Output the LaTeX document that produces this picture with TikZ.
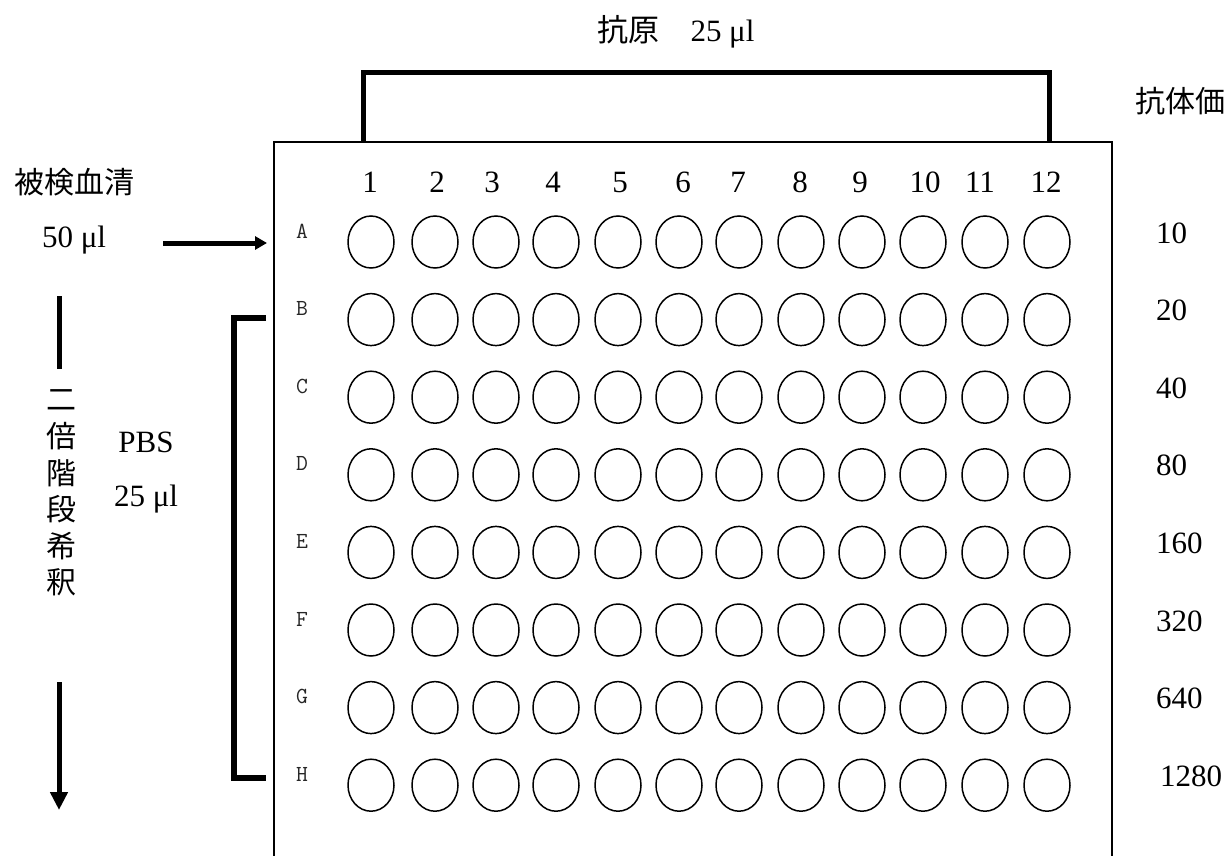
\documentclass[tikz,border=0pt]{standalone}
\usepackage{fontspec}
\setmainfont{Liberation Serif}
\newfontfamily\cjk{Noto Sans CJK JP}
\usetikzlibrary{shapes.geometric,arrows.meta}
\tikzset{
  lat/.style={font=\fontsize{31}{36}\selectfont, inner sep=0pt, anchor=base},
  cj/.style={font=\cjk\fontsize{30}{36}\selectfont, inner sep=0pt},
  rowlab/.style={font=\ttfamily\fontsize{23}{27}\selectfont, inner sep=0pt, anchor=base, text=black!85},
  well/.style={ellipse, draw, line width=1.5pt, minimum width=46pt, minimum height=52pt, inner sep=0pt},
  platepath/.style={line width=1.6pt},
  thickbar/.style={line width=5pt},
  arrowline/.style={line width=5pt, -{Triangle[length=12pt,width=13pt]}},
  downarrow/.style={line width=5pt, -{Triangle[length=18pt,width=17pt]}}
}
\begin{document}
\begin{tikzpicture}[x=1pt,y=-1pt]
\useasboundingbox (0,0) rectangle (1229,856);
% plate
\coordinate (pBL) at (274,856);
\coordinate (pTL) at (274,142);
\coordinate (pTR) at (1112,142);
\coordinate (pBR) at (1112,856);
\draw[platepath] (pBL) -- (pTL) -- (pTR) -- (pBR);
% top bracket
\coordinate (tb1) at (363,142);
\coordinate (tb2) at (363,73);
\coordinate (tb3) at (1049,73);
\coordinate (tb4) at (1049,142);
\draw[thickbar] (tb1) -- (tb2) -- (tb3) -- (tb4);
\node[lat] (antigen) at (676,42) {{\cjk 抗原　}25 μl};
\node[cj] (titer) at (1180,101) {抗体価};
% column numbers
\foreach \n/\x in {1/370,2/437,3/492,4/553,5/620,6/683,7/738,8/800,9/860,10/925,11/980,12/1046}{
  \node[lat] (col\n) at (\x,192) {\n};
}
% rows
\foreach \r/\v/\vx [count=\i from 0] in {A/10/1156,B/20/1156,C/40/1156,D/80/1156,E/160/1156,F/320/1156,G/640/1156,H/1280/1160}{
  \pgfmathsetmacro{\wy}{242+\i*77.6}
  \pgfmathsetmacro{\by}{243+\i*77.6}
  \pgfmathsetmacro{\ly}{238+\i*77.6}
  \node[rowlab] (row\r) at (302,\ly) {\r};
  \node[lat, anchor=base west] (val\r) at (\vx,\by) {\v};
  \foreach \c/\x in {1/371,2/435,3/496,4/556,5/618,6/679,7/739,8/801,9/862,10/923,11/985,12/1047}{
    \node[well] (w\r\c) at (\x,\wy) {};
  }
}
% left labels
\node[cj] (serum) at (74,182) {被検血清};
\node[lat] (s50) at (74,247) {50 μl};
\coordinate (arS) at (163,243);
\coordinate (arE) at (267,243);
\draw[arrowline] (arS) -- (arE);
% PBS bracket
\coordinate (lb1) at (266,318);
\coordinate (lb2) at (234,318);
\coordinate (lb3) at (234,778);
\coordinate (lb4) at (266,778);
\draw[line width=6pt] (lb1) -- (lb2) -- (lb3) -- (lb4);
\node[lat] (pbs) at (146,452) {PBS};
\node[lat] (p25) at (146,506) {25 μl};
% dilution arrow and vertical text
\coordinate (dl1) at (59,296);
\coordinate (dl2) at (59,369);
\draw[thickbar] (dl1) -- (dl2);
\foreach \ch [count=\k from 0] in {二,倍,階,段,希,釈}{
  \node[cj] (vt\k) at (61,{400+\k*36.4}) {\ch};
}
\coordinate (da1) at (59,682);
\coordinate (da2) at (59,810);
\draw[downarrow] (da1) -- (da2);
\end{tikzpicture}
\end{document}
